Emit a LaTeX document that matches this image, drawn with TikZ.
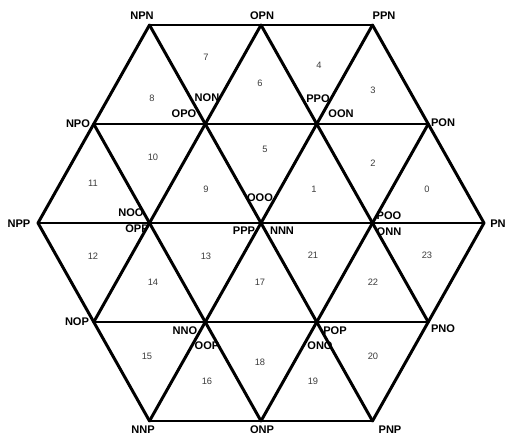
\documentclass[tikz,border=0pt]{standalone}
\usepackage{fontspec}
\setmainfont{Liberation Sans}
\usepackage{xcolor}
\definecolor{numgray}{RGB}{60,60,60}
\newcommand{\vfont}{\fontsize{6.3}{7}\selectfont\bfseries}
\newcommand{\nfont}{\fontsize{5.3}{6}\selectfont}

\begin{document}
\begin{tikzpicture}[
    x=0.02cm,y=-0.02cm,
    edge/.style={line width=1.7pt,line cap=round},
    vlab/.style={inner sep=0pt,font=\vfont},
    num/.style={inner sep=0pt,font=\nfont,text=numgray}
  ]
    \useasboundingbox (0,0) rectangle (505,436);
    % lattice points
    \coordinate (npn) at (149.5,25);  \coordinate (opn) at (261,25);   \coordinate (ppn) at (372.5,25);
    \coordinate (npo) at (93.75,124); \coordinate (non) at (205.25,124);
    \coordinate (oon) at (316.75,124); \coordinate (pon) at (428.25,124);
    \coordinate (npp) at (38,223);    \coordinate (noo) at (149.5,223); \coordinate (ooo) at (261,223);
    \coordinate (poo) at (372.5,223); \coordinate (pnn) at (484,223);
    \coordinate (nop) at (93.75,322); \coordinate (nno) at (205.25,322);
    \coordinate (pop) at (316.75,322); \coordinate (pno) at (428.25,322);
    \coordinate (nnp) at (149.5,421); \coordinate (onp) at (261,421);  \coordinate (pnp) at (372.5,421);

    % rows
    \draw[edge] (npn) -- (ppn);
    \draw[edge] (npo) -- (pon);
    \draw[edge] (npp) -- (pnn);
    \draw[edge] (nop) -- (pno);
    \draw[edge] (nnp) -- (pnp);
    % falling diagonals
    \draw[edge] (npp) -- (nnp);
    \draw[edge] (npo) -- (onp);
    \draw[edge] (npn) -- (pnp);
    \draw[edge] (opn) -- (pno);
    \draw[edge] (ppn) -- (pnn);
    % rising diagonals
    \draw[edge] (npp) -- (npn);
    \draw[edge] (nop) -- (opn);
    \draw[edge] (nnp) -- (ppn);
    \draw[edge] (onp) -- (pon);
    \draw[edge] (pnp) -- (pnn);

    % vertex labels
    \node[vlab] (lnpn) at (142,16) {NPN};
    \node[vlab] (lopn) at (262,16) {OPN};
    \node[vlab] (lppn) at (384,16) {PPN};
    \node[vlab] (lnpo) at (78,124) {NPO};
    \node[vlab] (lnon) at (207,98) {NON};
    \node[vlab] (lopo) at (184,114) {OPO};
    \node[vlab] (lppo) at (318,99) {PPO};
    \node[vlab] (loon) at (341,114) {OON};
    \node[vlab] (lpon) at (443,123) {PON};
    \node[vlab] (lnpp) at (19,224) {NPP};
    \node[vlab] (lnoo) at (131,213) {NOO};
    \node[vlab] (lopp) at (137,229) {OPP};
    \node[vlab] (looo) at (260,198) {OOO};
    \node[vlab] (lppp) at (244,231) {PPP};
    \node[vlab] (lnnn) at (282,231) {NNN};
    \node[vlab] (lpoo) at (389,216) {POO};
    \node[vlab] (lonn) at (389,232) {ONN};
    \node[vlab,anchor=west] (lpnn) at (490,224) {PN};
    \node[vlab] (lnop) at (77,322) {NOP};
    \node[vlab] (lnno) at (185,331) {NNO};
    \node[vlab] (loop) at (207,346) {OOP};
    \node[vlab] (lpop) at (335,331) {POP};
    \node[vlab] (lono) at (320,346) {ONO};
    \node[vlab] (lpno) at (443,329) {PNO};
    \node[vlab] (lnnp) at (143,430) {NNP};
    \node[vlab] (lonp) at (262,430) {ONP};
    \node[vlab] (lpnp) at (390,430) {PNP};

    % triangle numbers
    \node[num] (t0) at (427,189) {0};
    \node[num] (t1) at (314,189) {1};
    \node[num] (t2) at (373,163) {2};
    \node[num] (t3) at (373,90) {3};
    \node[num] (t4) at (319,65) {4};
    \node[num] (t5) at (265,149) {5};
    \node[num] (t6) at (260,83) {6};
    \node[num] (t7) at (206,57) {7};
    \node[num] (t8) at (152,98) {8};
    \node[num] (t9) at (206,189) {9};
    \node[num] (t10) at (153,157) {10};
    \node[num] (t11) at (93,183) {11};
    \node[num] (t12) at (93,256) {12};
    \node[num] (t13) at (206,256) {13};
    \node[num] (t14) at (153,282) {14};
    \node[num] (t15) at (147,356) {15};
    \node[num] (t16) at (207,381) {16};
    \node[num] (t17) at (260,282) {17};
    \node[num] (t18) at (260,362) {18};
    \node[num] (t19) at (313,381) {19};
    \node[num] (t20) at (373,356) {20};
    \node[num] (t21) at (313,255) {21};
    \node[num] (t22) at (373,282) {22};
    \node[num] (t23) at (427,255) {23};
  \end{tikzpicture}
\end{document}
